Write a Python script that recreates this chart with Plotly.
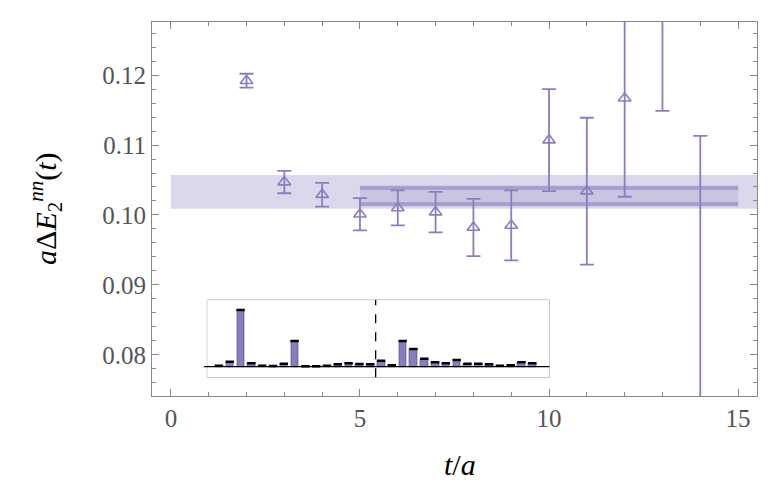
import plotly.graph_objects as go

# ---- data ----
t_vals = [2, 3, 4, 5, 6, 7, 8, 9, 10, 11, 12, 13, 14]
dE_vals = [0.1192, 0.1047, 0.1029, 0.1001, 0.1010, 0.1004, 0.0982, 0.0985,
           0.1107, 0.1034, 0.1167, 0.1350, 0.0600]
dE_errs = [0.0010, 0.0016, 0.0017, 0.0023, 0.0025, 0.0029, 0.0041, 0.0050,
           0.0073, 0.0105, 0.0141, 0.0201, 0.0513]

wide_fit_t = [0, 16]
wide_fit_center = 0.1033
wide_fit_half = 0.0024

narrow_fit_t = [5, 15]
narrow_fit_center = 0.10271
narrow_fit_half = 0.00119

inset_index = list(range(1, 31))
inset_heights = [0.015, 0.075, 0.85, 0.05, 0.015, 0.01, 0.045, 0.385, 0.005, 0.005,
                 0.015, 0.035, 0.05, 0.04, 0.035, 0.09, 0.02, 0.385, 0.265, 0.12,
                 0.065, 0.05, 0.10, 0.045, 0.045, 0.035, 0.015, 0.02, 0.065, 0.05]
inset_split = 15.5

x_ticks = [0, 5, 10, 15]
y_ticks = [0.08, 0.09, 0.10, 0.11, 0.12]

PURPLE = "#8a7ebf"
FONT = "Liberation Serif"

fig = go.Figure()

# wide band
fig.add_trace(go.Scatter(
    x=[wide_fit_t[0], wide_fit_t[1], wide_fit_t[1], wide_fit_t[0], wide_fit_t[0]],
    y=[wide_fit_center + wide_fit_half] * 2 + [wide_fit_center - wide_fit_half] * 2
      + [wide_fit_center + wide_fit_half],
    fill="toself", fillcolor="rgba(138,126,191,0.30)", line=dict(width=0),
    mode="lines", hoverinfo="skip", showlegend=False))

# narrow band
fig.add_trace(go.Scatter(
    x=[narrow_fit_t[0], narrow_fit_t[1], narrow_fit_t[1], narrow_fit_t[0], narrow_fit_t[0]],
    y=[narrow_fit_center + narrow_fit_half] * 2 + [narrow_fit_center - narrow_fit_half] * 2
      + [narrow_fit_center + narrow_fit_half],
    fill="toself", fillcolor="rgba(138,126,191,0.22)", line=dict(width=0),
    mode="lines", hoverinfo="skip", showlegend=False))
for edge in (narrow_fit_center + narrow_fit_half, narrow_fit_center - narrow_fit_half):
    fig.add_trace(go.Scatter(
        x=narrow_fit_t, y=[edge, edge], mode="lines",
        line=dict(color="rgba(138,126,191,0.6)", width=4),
        hoverinfo="skip", showlegend=False))

# data points
fig.add_trace(go.Scatter(
    x=t_vals, y=dE_vals, mode="markers",
    marker=dict(symbol="triangle-up-open", size=11, color=PURPLE,
                line=dict(width=1.6, color=PURPLE)),
    error_y=dict(type="data", array=dE_errs, color=PURPLE, thickness=1.8, width=7),
    showlegend=False))

# inset bars
fig.add_trace(go.Bar(
    x=inset_index, y=inset_heights, xaxis="x2", yaxis="y2", width=0.7,
    marker=dict(color="#8a7dbf", line=dict(color="#4a4070", width=0.6)),
    showlegend=False))
fig.add_trace(go.Scatter(
    x=inset_index, y=inset_heights, xaxis="x2", yaxis="y2", mode="markers",
    marker=dict(symbol="line-ew", size=6, line=dict(color="black", width=2.5)),
    showlegend=False))

# inset background & decorations
fig.add_shape(type="rect", xref="x2 domain", yref="y2 domain", x0=0, x1=1, y0=0, y1=1,
              fillcolor="#f4f4f4", line=dict(color="#999999", width=1), layer="below")
fig.add_shape(type="line", xref="x2 domain", yref="y2", x0=-0.01, x1=1.0, y0=0, y1=0,
              line=dict(color="black", width=1.3))
fig.add_shape(type="line", xref="x2", yref="y2 domain", x0=inset_split, x1=inset_split,
              y0=0, y1=1, line=dict(color="black", width=1.3, dash="dash"))

axis_common = dict(showline=True, linecolor="#888888", linewidth=1, mirror="allticks",
                   ticks="inside", ticklen=7, tickcolor="#888888", showgrid=False,
                   zeroline=False, automargin=False,
                   tickfont=dict(family=FONT, size=25, color="#555555"))

fig.update_layout(
    width=781, height=496,
    margin=dict(l=144, r=32, t=14, b=108),
    paper_bgcolor="white", plot_bgcolor="white",
    xaxis=dict(range=[-0.5, 15.5], tickvals=x_ticks,
               minor=dict(dtick=1, tick0=0, ticks="inside", ticklen=4, tickcolor="#888888"),
               **axis_common),
    yaxis=dict(range=[0.0741, 0.1276], tickvals=y_ticks, tickformat=".2f",
               minor=dict(dtick=0.002, tick0=0.08, ticks="inside", ticklen=4, tickcolor="#888888"),
               **axis_common),
    xaxis2=dict(domain=[0.0914, 0.6567], anchor="y2", range=[-0.08, 31.57], visible=False),
    yaxis2=dict(domain=[0.050, 0.2565], anchor="x2", range=[-0.159, 1.0], visible=False),
    bargap=0,
    annotations=[
        dict(text="<i>t</i>/<i>a</i>", xref="paper", yref="paper", x=0.509, y=-0.184,
             showarrow=False, xanchor="center", yanchor="middle",
             font=dict(family=FONT, size=30, color="black")),
        dict(text="<i>a</i>Δ<i>E</i><sub>2</sub><sup><i>nn</i></sup>(<i>t</i>)",
             xref="paper", yref="paper", x=-0.177, y=0.50, textangle=-90,
             showarrow=False, xanchor="center", yanchor="middle",
             font=dict(family=FONT, size=30, color="black")),
    ],
)

fig.write_html("out.html")
